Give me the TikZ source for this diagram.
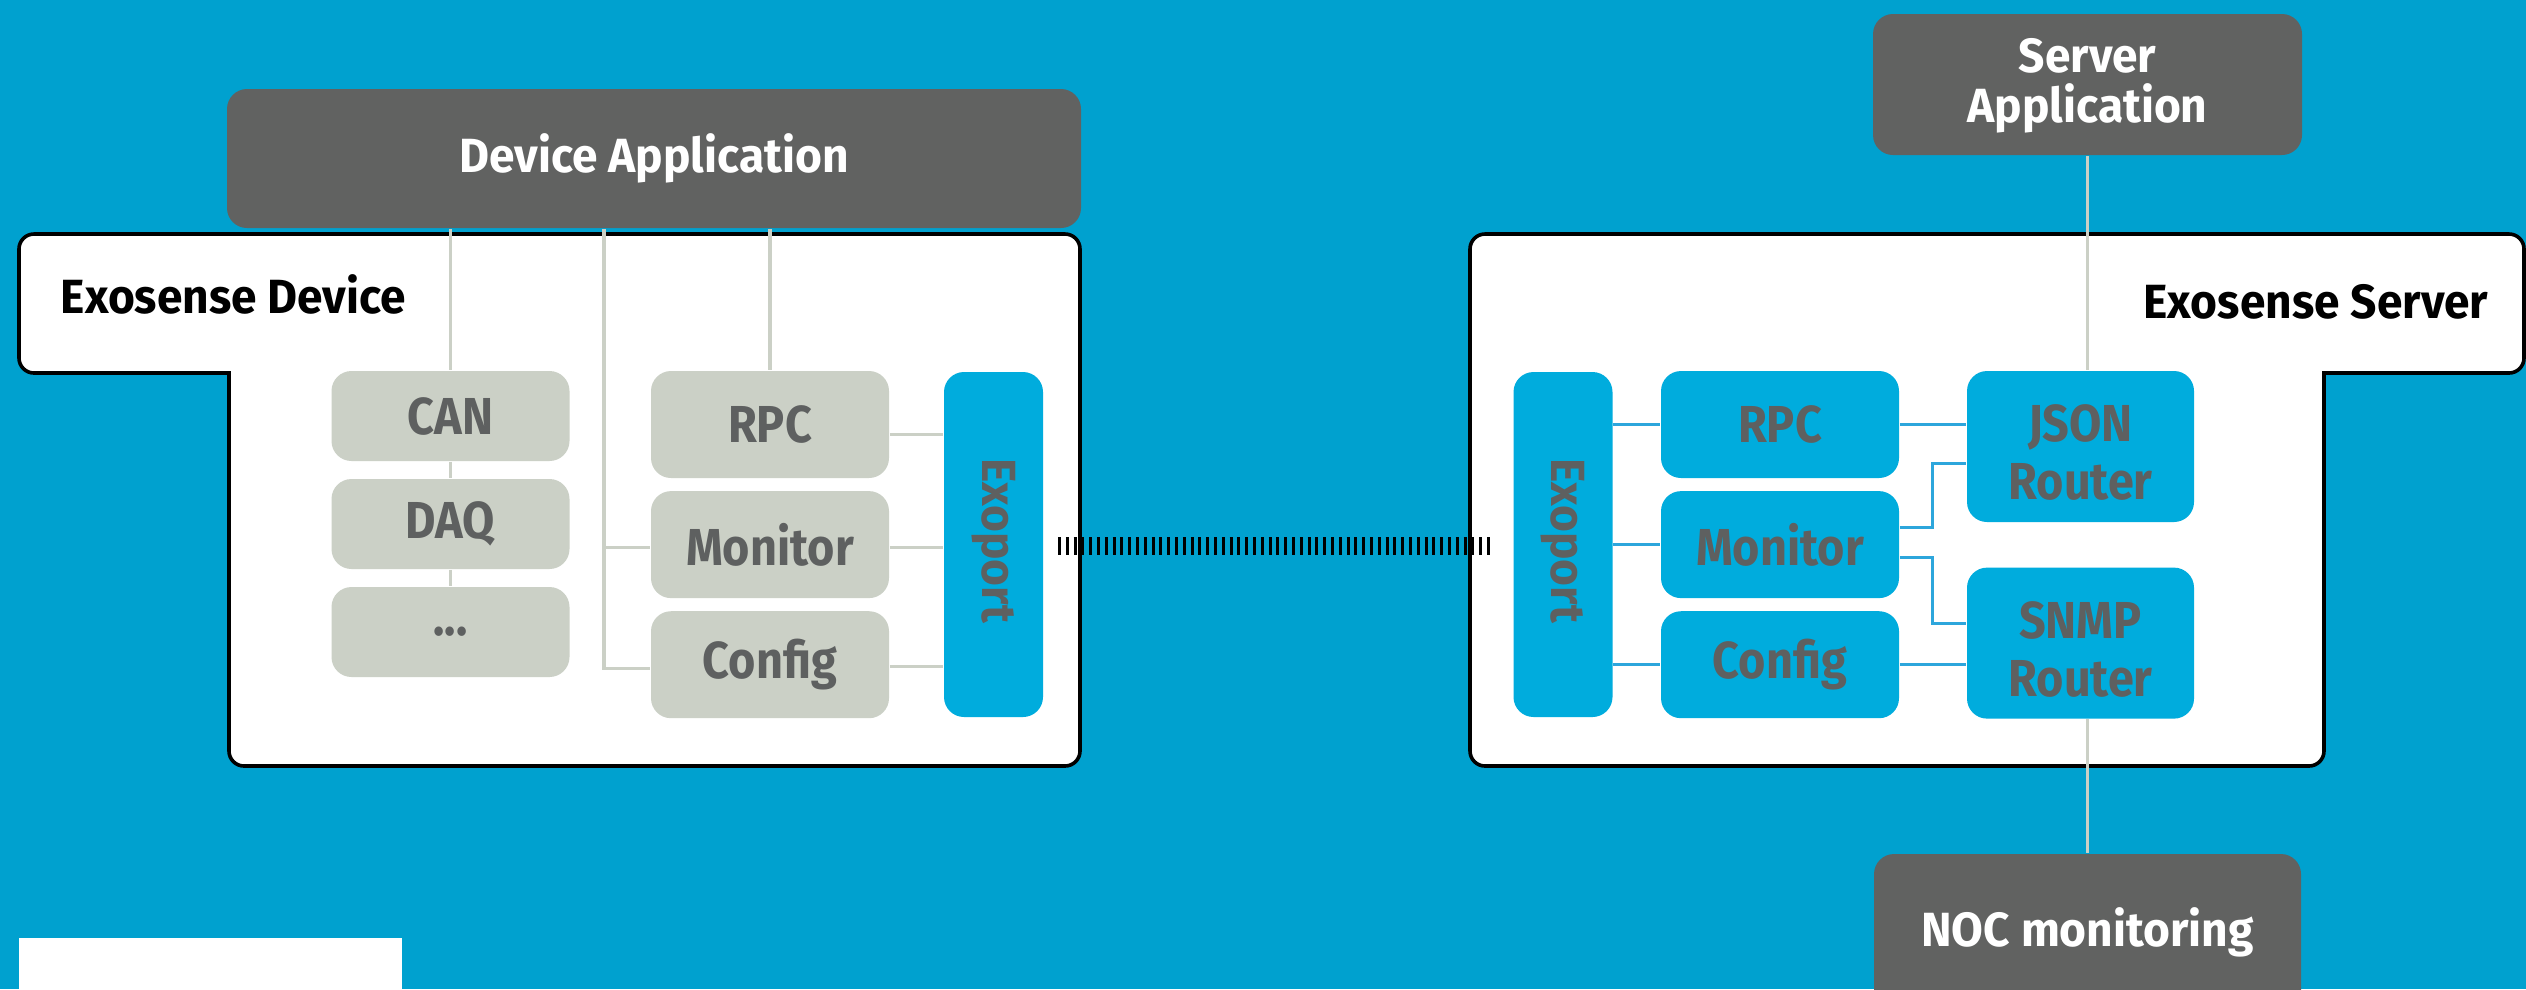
\documentclass[tikz,border=0pt]{standalone}
\usepackage{fontspec}
\setmainfont[FakeStretch=0.96]{Fira Sans}
\newfontfamily\labelfont[FakeStretch=0.9]{Fira Sans}
\usetikzlibrary{positioning}
\definecolor{bgblue}{RGB}{0,161,207}
\definecolor{boxblue}{RGB}{0,172,221}
\definecolor{lineblue}{RGB}{45,166,220}
\definecolor{darkgray}{RGB}{97,98,97}
\definecolor{lightbox}{RGB}{203,208,198}
\definecolor{labelgray}{RGB}{94,96,96}
\begin{document}
\begin{tikzpicture}[x=0.25pt,y=-0.25pt]
            \tikzstyle{appbox}=[fill=darkgray,rounded corners=5pt,inner sep=0pt,text=white,align=center,font=\bfseries\fontsize{12}{12.5}\selectfont]
            \tikzstyle{modbox}=[fill=lightbox,rounded corners=5pt,inner sep=0pt,text=labelgray,align=center,minimum width=59.5pt,font=\labelfont\bfseries\fontsize{13}{14.5}\selectfont]
            \tikzstyle{srvbox}=[modbox,fill=boxblue]
            \tikzstyle{portbox}=[fill=boxblue,rounded corners=5pt,minimum width=24.75pt,minimum height=86.25pt]
            \tikzstyle{portname}=[rotate=-90,xshift=-1pt,text=labelgray,font=\bfseries\fontsize{12}{14}\selectfont]
            \tikzstyle{routername}=[yshift=-1.5pt,text=labelgray,align=center,font=\labelfont\bfseries\fontsize{13}{14.5}\selectfont]
            \tikzstyle{frame}=[draw=black,fill=white,line width=0.9pt,rounded corners=3.75pt,line cap=rect]
            \tikzstyle{title}=[inner sep=0pt,font=\bfseries\fontsize{12}{14}\selectfont]
            \tikzstyle{gline}=[draw=lightbox,line width=0.8pt]
            \tikzstyle{bline}=[draw=lineblue,line width=0.75pt]
            \tikzstyle{link}=[draw=black,line width=4.5pt,dash pattern=on 0.75pt off 1.2pt]
            % background
            \fill[bgblue] (0,0) rectangle (2526,989);
            \useasboundingbox (0,0) rectangle (2526,989);
            \clip (0,0) rectangle (2526,989);
            \fill[white] (19,938) rectangle (402,1000);
            % frames
            \filldraw[frame] (229,373) -- (19,373) -- (19,234) -- (1080,234) -- (1080,766) -- (229,766) -- (229,373);
            \filldraw[frame] (2324,373) -- (2524,373) -- (2524,234) -- (1470,234) -- (1470,766) -- (2324,766) -- (2324,373);
            \node[title,anchor=base west] (devtitle) at (60,313) {Exosense Device};
            \node[title,anchor=base east] (srvtitle) at (2489,318) {Exosense Server};
            % device side
            \node[appbox,minimum width=213.5pt,minimum height=34.75pt] (devapp) at (654,158.5) {Device Application};
            \node[modbox,minimum height=22.5pt] (can) at (450.5,416) {CAN};
            \node[modbox,minimum height=22.5pt,below=4.1pt of can] (daq) {DAQ};
            \node[modbox,minimum height=22.5pt,below=4.1pt of daq] (more) {...};
            \node[modbox,minimum height=26.75pt] (rpcL) at (770,424.5) {RPC};
            \node[modbox,minimum height=26.75pt,below=2.875pt of rpcL] (monL) {Monitor};
            \node[modbox,minimum height=26.75pt,below=2.875pt of monL] (cfgL) {Config};
            \node[portbox,label={[portname]center:Exoport}] (exoL) at (993.5,544.5) {};
            % server side
            \node[appbox,minimum width=107.25pt,minimum height=35.25pt] (srvapp) at (2087.5,84.5) {\rule{0pt}{9pt}Server\\Application};
            \node[appbox,minimum width=106.75pt,minimum height=39pt] (noc) at (2087.5,932) {NOC monitoring};
            \node[portbox,label={[portname]center:Exoport}] (exoR) at (1563,544.5) {};
            \node[srvbox,minimum height=26.75pt] (rpcR) at (1780,424.5) {RPC};
            \node[srvbox,minimum height=26.75pt,below=2.875pt of rpcR] (monR) {Monitor};
            \node[srvbox,minimum height=26.75pt,below=2.875pt of monR] (cfgR) {Config};
            \node[srvbox,minimum width=56.75pt,minimum height=37.75pt,label={[routername]center:JSON\\Router}] (json) at (2080.5,446.5) {};
            \node[srvbox,minimum width=56.75pt,minimum height=37.75pt,below=11pt of json,label={[routername]center:SNMP\\Router}] (snmp) {};
            % helper points
            \coordinate (trunk) at (604,0);
            \coordinate (bend) at (1932,0);
            \coordinate (linkL) at (1058,546);
            \coordinate (linkR) at (1492,546);
            \coordinate (monLin) at ([yshift=-0.75pt]monL.west);
            \coordinate (cfgLin) at ([yshift=-1pt]cfgL.west);
            \coordinate (rpcLout) at ([yshift=-2.5pt]rpcL.east);
            \coordinate (monLout) at ([yshift=-0.75pt]monL.east);
            \coordinate (cfgLout) at ([yshift=-0.5pt]cfgL.east);
            \coordinate (monRup) at ([yshift=4.25pt]monR.east);
            \coordinate (monRdown) at ([yshift=-3.25pt]monR.east);
            \coordinate (jsonin) at ([yshift=-4.125pt]json.west);
            \coordinate (snmpin) at ([yshift=4.9pt]snmp.west);
            % device connectors
            \draw[gline] (devapp.south -| can.north) -- (can.north);
            \draw[gline] (can) -- (daq);
            \draw[gline] (daq) -- (more);
            \draw[gline] (devapp.south -| rpcL.north) -- (rpcL.north);
            \draw[gline] (devapp.south -| trunk) |- (cfgLin);
            \draw[gline] (monLin -| trunk) -- (monLin);
            \draw[gline] (rpcLout) -- (rpcLout -| exoL.west);
            \draw[gline] (monLout) -- (monLout -| exoL.west);
            \draw[gline] (cfgLout) -- (cfgLout -| exoL.west);
            % link between the exoports
            \draw[link] (linkL) -- (linkR);
            % server connectors
            \draw[bline] (exoR.east |- rpcR.west) -- (rpcR.west);
            \draw[bline] (exoR.east |- monR.west) -- (monR.west);
            \draw[bline] (exoR.east |- cfgR.west) -- (cfgR.west);
            \draw[bline] (rpcR.east) -- (rpcR.east -| json.west);
            \draw[bline] (cfgR.east) -- (cfgR.east -| snmp.west);
            \draw[bline] (monRup) -| (jsonin -| bend) -- (jsonin);
            \draw[bline] (monRdown) -| (snmpin -| bend) -- (snmpin);
            \draw[gline] (srvapp.south) -- (srvapp.south |- json.north);
            \draw[gline] (noc.north |- snmp.south) -- (noc.north);
\end{tikzpicture}
\end{document}
